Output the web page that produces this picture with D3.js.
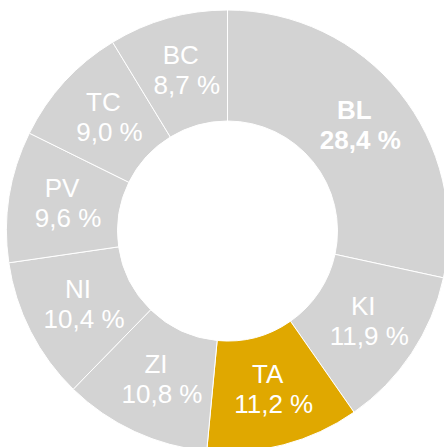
<!DOCTYPE html>
<html>
<head>
<meta charset="utf-8">
<script src="https://cdn.jsdelivr.net/npm/d3@7"></script>
<style>
    body { margin: 0; background: #fff; }
    svg { display: block; }
</style>
</head>
<body>
<div id="chart"></div>
<script>
const categories = ["BL", "KI", "TA", "ZI", "NI", "PV", "TC", "BC"];
const shares = [28.4, 11.9, 11.2, 10.8, 10.4, 9.6, 9.0, 8.7];
const highlight = "TA";
const boldLabel = "BL";

const width = 444, height = 447;
const cx = 227.5, cy = 231;
const outerR = 221, innerR = 110;

const data = categories.map((c, i) => ({ name: c, value: shares[i] }));

const svg = d3.select('#chart')
    .append('svg')
    .attr('width', width)
    .attr('height', height);

const g = svg.append('g')
    .attr('transform', `translate(${cx},${cy})`);

const pie = d3.pie().sort(null).value(d => d.value);
const arc = d3.arc().innerRadius(innerR).outerRadius(outerR);

const arcs = pie(data);

g.selectAll('.slice')
    .data(arcs)
    .enter().append('path')
    .attr('class', 'slice')
    .attr('d', arc)
    .attr('fill', d => d.data.name === highlight ? '#e0a800' : '#d3d3d3')
    .attr('stroke', '#fff')
    .attr('stroke-width', 1);

const fmt = v => v.toFixed(1).replace('.', ',') + ' %';

const labels = g.selectAll('.label')
    .data(arcs)
    .enter().append('text')
    .attr('class', 'label')
    .attr('transform', d => {
        const [x, y] = arc.centroid(d);
        return `translate(${x + 1},${y})`;
    })
    .attr('text-anchor', 'middle')
    .attr('fill', '#fff')
    .style('font-family', '"Liberation Sans", Arial, sans-serif')
    .style('font-size', '26px')
    .style('font-weight', d => d.data.name === boldLabel ? 'bold' : 'normal');

// the category line sits a little left of the value line in the original
labels.append('tspan')
    .attr('x', -3)
    .attr('y', -8)
    .text(d => d.data.name);

labels.append('tspan')
    .attr('x', 3)
    .attr('y', 22)
    .text(d => fmt(d.data.value));
</script>
</body>
</html>
